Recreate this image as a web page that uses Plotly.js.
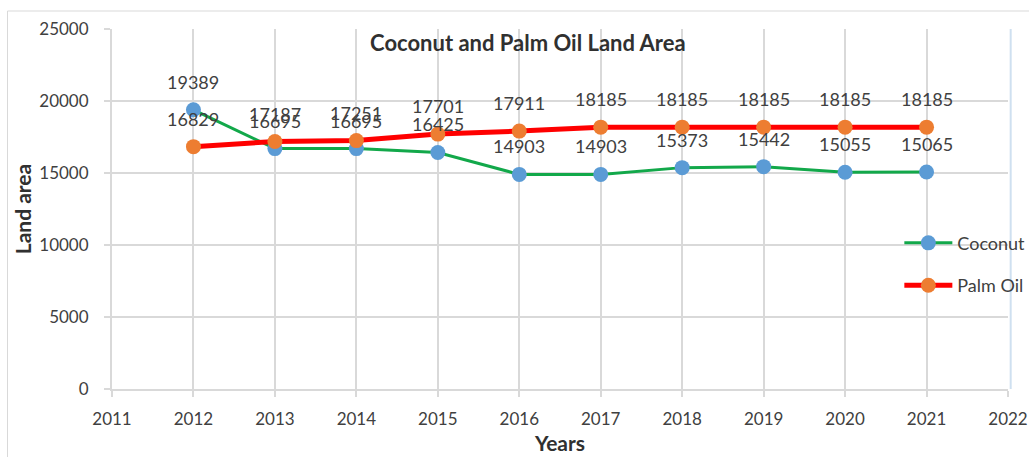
<!DOCTYPE html>
<html>
<head>
<meta charset="utf-8">
<script src="https://cdn.plot.ly/plotly-3.0.1.min.js"></script>
<style>html,body{margin:0;padding:0;background:#fff;}#chart{width:1029px;height:457px;}</style>
</head>
<body>
<div id="chart"></div>
<script>
const years = [2012, 2013, 2014, 2015, 2016, 2017, 2018, 2019, 2020, 2021];
const coconut = [19389, 16695, 16695, 16425, 14903, 14903, 15373, 15442, 15055, 15065];
const palmOil = [16829, 17187, 17251, 17701, 17911, 18185, 18185, 18185, 18185, 18185];
const seriesNames = ["Coconut", "Palm Oil"];
const xTicks = [2011, 2012, 2013, 2014, 2015, 2016, 2017, 2018, 2019, 2020, 2021, 2022];
const yTicks = [0, 5000, 10000, 15000, 20000, 25000];

const FONT = "Lato, 'Open Sans', sans-serif";
const TXT = "#404040";

const traces = [
  {x: years, y: coconut, name: seriesNames[0], type: "scatter", mode: "lines+markers",
   line: {color: "#12a84a", width: 3}, marker: {color: "#5b9bd5", size: 15},
   legendgroup: "a", cliponaxis: false},
  {x: years, y: palmOil, name: seriesNames[1], type: "scatter", mode: "lines+markers",
   line: {color: "#ff0000", width: 5}, marker: {color: "#ed7d31", size: 15},
   legendgroup: "b", cliponaxis: false}
];

const annotations = [];
[coconut, palmOil].forEach(arr => {
  arr.forEach((v, i) => {
    annotations.push({x: years[i], y: v, xref: "x", yref: "y", text: String(v),
      showarrow: false, yshift: 28, font: {family: FONT, size: 18, color: TXT}});
  });
});

const layout = {
  width: 1029, height: 457,
  margin: {l: 112, r: 21, t: 29, b: 68, autoexpand: false},
  paper_bgcolor: "#fff", plot_bgcolor: "#fff",
  font: {family: FONT, color: TXT},
  title: {text: "<b>Coconut and Palm Oil Land Area</b>", x: 0.513, xanchor: "center",
    y: 0.905, yanchor: "middle", yref: "container", font: {family: FONT, size: 22, color: "#303030"}},
  xaxis: {range: [2011, 2022], tickvals: xTicks, ticktext: xTicks.map(String),
    showgrid: true, gridcolor: "#d9d9d9", gridwidth: 2, zeroline: false,
    showline: true, linecolor: "#d9d9d9", linewidth: 2, ticks: "outside", ticklen: 6, tickcolor: "#d9d9d9", tickwidth: 2,
    ticklabelstandoff: 8, automargin: false,
    tickfont: {family: FONT, size: 17, color: TXT},
    title: {text: "<b>Years</b>", font: {family: FONT, size: 21, color: "#303030"}, standoff: 8}},
  yaxis: {range: [0, 25000], tickvals: yTicks, ticktext: yTicks.map(String),
    showgrid: true, gridcolor: "#d9d9d9", gridwidth: 2, zeroline: false,
    showline: true, linecolor: "#d9d9d9", linewidth: 2, ticks: "outside", ticklen: 6, tickcolor: "#d9d9d9", tickwidth: 2,
    ticklabelstandoff: 12, automargin: false,
    tickfont: {family: FONT, size: 17, color: TXT},
    title: {text: "<b>Land area</b>", font: {family: FONT, size: 21, color: "#303030"}, standoff: 2}},
  showlegend: true,
  legend: {xref: "container", yref: "container", x: 0.874, y: 0.422, xanchor: "left", yanchor: "middle",
    bgcolor: "rgba(0,0,0,0)",
    font: {family: FONT, size: 18, color: TXT}, traceorder: "grouped", tracegroupgap: 16, itemwidth: 48},
  annotations: annotations,
  shapes: [
    {type: "rect", xref: "paper", yref: "paper", x0: -0.1166, x1: 1.06, y0: -0.3, y1: 1.05,
     line: {color: "#d9d9d9", width: 1}, fillcolor: "rgba(0,0,0,0)", layer: "below"},
    {type: "line", xref: "paper", yref: "paper", x0: 1.003, x1: 1.003, y0: 0, y1: 1,
     line: {color: "#cfe0f0", width: 2}, layer: "below"}
  ]
};

Plotly.newPlot("chart", traces, layout, {displayModeBar: false, staticPlot: true});
</script>
</body>
</html>
